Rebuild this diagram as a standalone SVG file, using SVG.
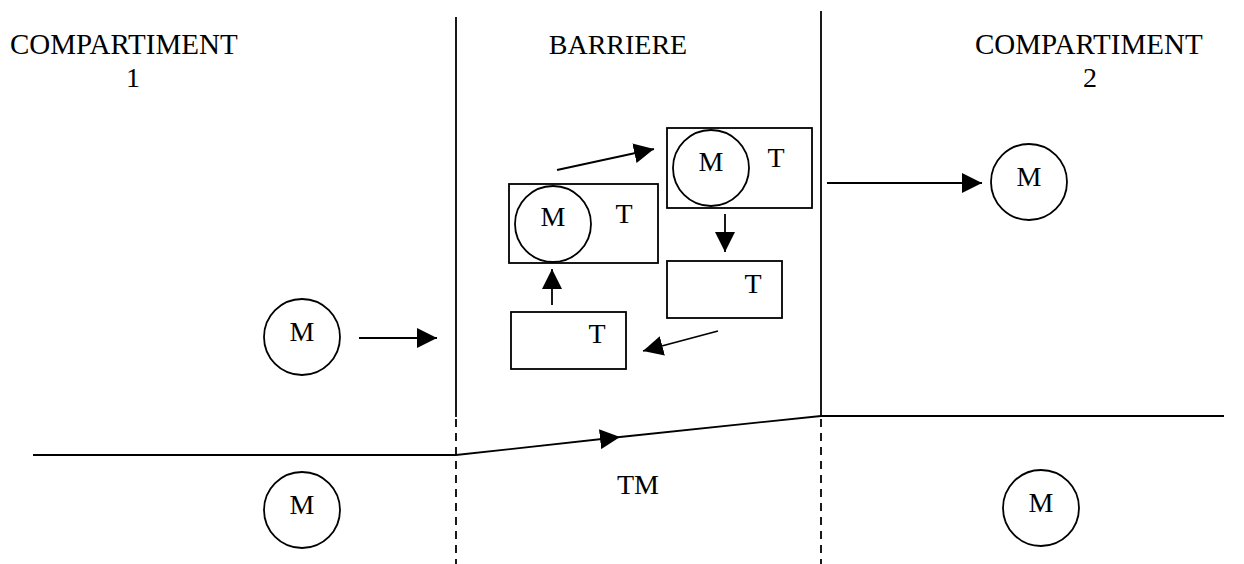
<svg xmlns="http://www.w3.org/2000/svg" width="1244" height="564" viewBox="0 0 1244 564">
<style>
  .ln{stroke:#000;stroke-width:1.8;fill:none}
  .dash{stroke:#000;stroke-width:1.8;fill:none;stroke-dasharray:8 6}
  .sh{stroke:#000;stroke-width:1.8;fill:#fff}
  .tx{font-family:"Liberation Serif","Times New Roman",serif;font-size:28px;fill:#000}
  .big{font-size:29px}
  .c{text-anchor:middle}
</style>
<defs>
  <marker id="ah" markerUnits="userSpaceOnUse" markerWidth="20" markerHeight="20" refX="20" refY="10" orient="auto" viewBox="0 0 20 20">
    <path d="M0,0 L20,10 L0,20 z" fill="#000"/>
  </marker>
</defs>
<rect width="1244" height="564" fill="#fff"/>

<g id="labels">
  <text class="tx big" x="10" y="54">COMPARTIMENT</text>
  <text class="tx c" x="133" y="87">1</text>
  <text class="tx c" x="618" y="54">BARRIERE</text>
  <text class="tx big" x="975" y="54">COMPARTIMENT</text>
  <text class="tx c" x="1090" y="87">2</text>
  <text class="tx c" x="638" y="494">TM</text>
</g>

<g id="structure">
  <line class="ln" x1="456" y1="17" x2="456" y2="417"/>
  <line class="dash" x1="456" y1="419" x2="456" y2="564"/>
  <line class="ln" x1="821" y1="11" x2="821" y2="416"/>
  <line class="dash" x1="821" y1="419" x2="821" y2="564"/>
  <line class="ln" x1="33" y1="455" x2="456" y2="455"/>
  <line class="ln" x1="821" y1="416" x2="1224" y2="416"/>
</g>

<g id="m-left-top">
  <circle class="sh" cx="302" cy="337" r="38"/>
  <text class="tx c" x="302" y="341">M</text>
</g>
<g id="m-right-top">
  <circle class="sh" cx="1029" cy="182" r="38"/>
  <text class="tx c" x="1029" y="186">M</text>
</g>
<g id="m-left-bottom">
  <circle class="sh" cx="302" cy="510" r="38"/>
  <text class="tx c" x="302" y="514">M</text>
</g>
<g id="m-right-bottom">
  <circle class="sh" cx="1041" cy="508" r="38"/>
  <text class="tx c" x="1041" y="512">M</text>
</g>

<g id="box-a">
  <rect class="sh" x="509" y="184" width="149" height="79"/>
  <circle class="sh" cx="553" cy="224" r="38"/>
  <text class="tx c" x="553" y="226">M</text>
  <text class="tx c" x="624" y="223">T</text>
</g>
<g id="box-b">
  <rect class="sh" x="667" y="128" width="145" height="80"/>
  <circle class="sh" cx="711" cy="168" r="38"/>
  <text class="tx c" x="711" y="171">M</text>
  <text class="tx c" x="776" y="167">T</text>
</g>
<g id="box-c">
  <rect class="sh" x="667" y="261" width="115" height="57"/>
  <text class="tx c" x="753" y="293">T</text>
</g>
<g id="box-d">
  <rect class="sh" x="511" y="312" width="115" height="57"/>
  <text class="tx c" x="597" y="343">T</text>
</g>

<g id="connectors">
  <line class="ln" x1="359" y1="338" x2="437" y2="338" marker-end="url(#ah)"/>
  <line class="ln" x1="827" y1="183" x2="982" y2="183" marker-end="url(#ah)"/>
  <line class="ln" x1="557" y1="170" x2="654" y2="149" marker-end="url(#ah)"/>
  <line class="ln" x1="725" y1="214" x2="725" y2="252" marker-end="url(#ah)"/>
  <line class="ln" x1="552" y1="305" x2="552" y2="269" marker-end="url(#ah)"/>
  <line class="ln" x1="718" y1="331" x2="643" y2="351" marker-end="url(#ah)"/>
  <line class="ln" x1="456" y1="455" x2="620" y2="437" marker-end="url(#ah)"/>
  <line class="ln" x1="620" y1="437" x2="821" y2="416"/>
</g>
</svg>
